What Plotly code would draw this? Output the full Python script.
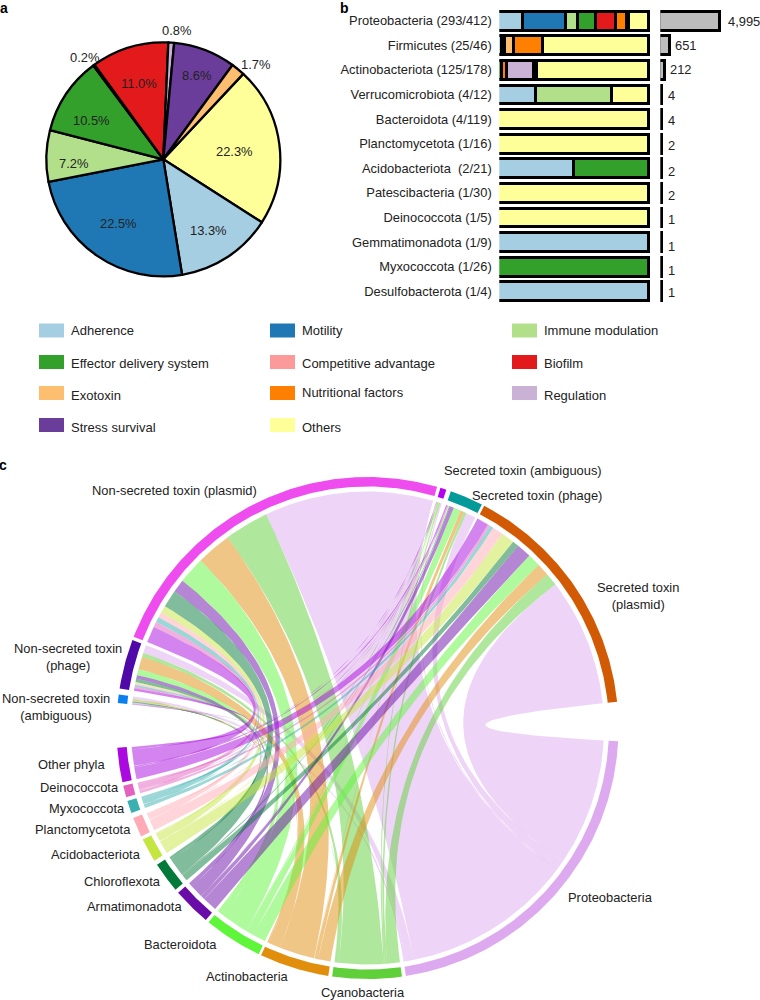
import math
import plotly.graph_objects as go

W, H = 760, 1000
FONT = "Liberation Sans"
TXT = "#222222"

# ---------- panel a / b categories ----------
categories = ["Adherence", "Motility", "Immune modulation", "Effector delivery system",
              "Competitive advantage", "Biofilm", "Exotoxin", "Nutritional factors",
              "Regulation", "Stress survival", "Others"]
cat_colors = ["#A6CEE3", "#1F78B4", "#B2DF8A", "#33A02C", "#FB9A99", "#E31A1C",
              "#FDBF6F", "#FF7F00", "#CAB2D6", "#6A3D9A", "#FFFF99"]

# ---------- panel a ----------
pie_cats = ["Others", "Adherence", "Motility", "Immune modulation", "Effector delivery system",
            "Competitive advantage", "Biofilm", "Regulation", "Stress survival", "Exotoxin"]
pie_values = [22.1, 13.4, 24.5, 7.1, 10.8, 0.2, 10.7, 0.8, 8.6, 1.9]
pie_text = ["22.3%", "13.3%", "22.5%", "7.2%", "10.5%", "0.2%", "11.0%", "0.8%", "8.6%", "1.7%"]
pie_text_px = [(234, 151), (208, 231), (118, 224), (73, 163), (91, 120), (84, 57),
               (139, 84), (176, 30), (196, 76), (255, 65)]

# ---------- panel b ----------
phyla_b = ["Proteobacteria (293/412)", "Firmicutes (25/46)", "Actinobacteriota (125/178)",
           "Verrucomicrobiota (4/12)", "Bacteroidota (4/119)", "Planctomycetota (1/16)",
           "Acidobacteriota  (2/21)", "Patescibacteria (1/30)", "Deinococcota (1/5)",
           "Gemmatimonadota (1/9)", "Myxococcota (1/26)", "Desulfobacterota (1/4)"]
stack = {
    "Adherence":                [16.2, 2, 0, 25, 0, 0, 50, 0, 0, 100, 0, 100],
    "Motility":                 [28.3, 0, 0, 0, 0, 0, 0, 0, 0, 0, 0, 0],
    "Immune modulation":        [8.2, 0, 0, 50, 0, 0, 0, 0, 0, 0, 0, 0],
    "Effector delivery system": [12.3, 2, 2, 0, 0, 0, 50, 0, 0, 0, 100, 0],
    "Competitive advantage":    [0, 0, 0, 0, 0, 0, 0, 0, 0, 0, 0, 0],
    "Biofilm":                  [13.0, 0, 0, 0, 0, 0, 0, 0, 0, 0, 0, 0],
    "Exotoxin":                 [0, 6.3, 0, 0, 0, 0, 0, 0, 0, 0, 0, 0],
    "Nutritional factors":      [7.1, 19.2, 3.8, 0, 0, 0, 0, 0, 0, 0, 0, 0],
    "Regulation":               [0, 0, 17.6, 0, 0, 0, 0, 0, 0, 0, 0, 0],
    "Stress survival":          [1.5, 0, 2, 0, 0, 0, 0, 0, 0, 0, 0, 0],
    "Others":                   [13.4, 70.5, 74.6, 25, 100, 100, 0, 100, 100, 0, 0, 0],
}
counts = [4995, 651, 212, 4, 4, 2, 2, 2, 1, 1, 1, 1]
count_text = ["4,995", "651", "212", "4", "4", "2", "2", "2", "1", "1", "1", "1"]
count_text_px = [(743.5, 21.3), (686, 45), (681, 69.7), (671.7, 95.3), (671.7, 120), (671.7, 145),
                 (671.7, 171.7), (671.7, 195), (671.7, 220), (671.7, 246), (671.7, 270), (671.7, 292.7)]

# ---------- legend layout ----------
legend_order = categories
legend_swatch_x = [39, 270, 512, 39, 270, 512, 39, 270, 512, 39, 270]
legend_swatch_y = [330.5, 330.5, 330.5, 362, 362, 362, 393, 393, 393, 425, 425]
legend_text_y = [331, 331, 331, 363, 363.6, 363.6, 395, 392, 395, 427, 427]

# ---------- panel c ----------
toxins = ["Secreted toxin (plasmid)", "Secreted toxin (phage)", "Secreted toxin (ambiguous)",
          "Non-secreted toxin (plasmid)", "Non-secreted toxin (phage)", "Non-secreted toxin (ambiguous)"]
toxin_colors = ["#D25A04", "#059A9A", "#B400F0", "#EE4CEE", "#4E09A8", "#0A80F0"]
phyla_c = ["Other phyla", "Deinococcota", "Myxococcota", "Planctomycetota", "Acidobacteriota",
           "Chloroflexota", "Armatimonadota", "Bacteroidota", "Actinobacteria", "Cyanobacteria",
           "Proteobacteria"]
phyla_colors = ["#AA0ADF", "#E362C0", "#3AB0B0", "#FFABB5", "#C5E640", "#047A3A", "#6A0DA8",
                "#5FF53A", "#E08E0B", "#5FCF3A", "#DDAAF0"]
# rows: phyla_c, columns: toxins
flows = [
    [2.9, 0.3, 0.10, 4.0, 0.60, 0.10],
    [0.6, 0.2, 0.05, 1.3, 0.45, 0.10],
    [0.9, 0.1, 0.05, 1.3, 0.45, 0.10],
    [2.7, 0.1, 0.05, 1.3, 0.35, 0.10],
    [3.2, 0.1, 0.05, 1.8, 0.30, 0.05],
    [1.6, 0.2, 0.05, 4.3, 0.80, 0.15],
    [3.6, 1.0, 0.05, 3.2, 0.90, 0.15],
    [3.2, 1.8, 0.25, 6.6, 1.50, 0.25],
    [3.1, 0.9, 0.10, 8.6, 3.10, 0.30],
    [3.1, 0.6, 0.30, 10.9, 1.00, 0.10],
    [31.4, 2.4, 0.35, 41.5, 2.00, 0.55],
]
start_angle = 6.0
gaps = [0.6, 1.1, 0.8, 0.8, 1.4, 10.2, 0.8, 0.9, 1.2, 0.8, 1.1, 0.9, 0.8, 0.6, 0.9, 0.9]

label_c = [("Non-secreted toxin (plasmid)", 174.3, 490.7), ("Non-secreted toxin<br>(phage)", 67.7, 656.5),
           ("Non-secreted toxin<br>(ambiguous)", 56, 707), ("Secreted toxin (ambiguous)", 523.3, 470.7),
           ("Secreted toxin (phage)", 536.7, 495.7), ("Secreted toxin<br>(plasmid)", 638.3, 596),
           ("Other phyla", 71.7, 764.3), ("Deinococcota", 79.3, 787.7), ("Myxococcota", 87.3, 808.7),
           ("Planctomycetota", 83, 829.3), ("Acidobacteriota", 96.3, 854.3), ("Chloroflexota", 122.7, 881.7),
           ("Armatimonadota", 134.3, 906.7), ("Bacteroidota", 180, 944.7), ("Actinobacteria", 247.7, 976),
           ("Cyanobacteria", 363, 992), ("Proteobacteria", 610, 897.3)]

# ---------- helpers ----------
def fx(px): return px / W
def fy(py): return 1 - py / H
def ann(text, x, y, size=12.9, anchor="center", bold=False, color=TXT):
    return dict(text=f"<b>{text}</b>" if bold else text, x=fx(x), y=fy(y), xref="paper", yref="paper",
                xanchor=anchor, yanchor="middle", showarrow=False,
                font=dict(family=FONT, size=size, color=color))
def rgba(hexc, a):
    return f"rgba({int(hexc[1:3],16)},{int(hexc[3:5],16)},{int(hexc[5:7],16)},{a})"

fig = go.Figure()
annotations, shapes = [], []

# panel a
fig.add_trace(go.Pie(values=pie_values, labels=pie_cats, sort=False, direction="clockwise",
                     rotation=43.1, textinfo="none", hoverinfo="skip", showlegend=False,
                     marker=dict(colors=[cat_colors[categories.index(c)] for c in pie_cats],
                                 line=dict(color="black", width=2.3)),
                     domain=dict(x=[fx(46.3), fx(280.3)], y=[fy(276.3), fy(42.3)])))
for t, (x, y) in zip(pie_text, pie_text_px):
    annotations.append(ann(t, x, y))

# panel b stacked
for c, col in zip(categories, cat_colors):
    vals = stack[c]
    fig.add_trace(go.Bar(y=phyla_b, x=[v if v else None for v in vals], orientation="h",
                         marker=dict(color=col, line=dict(color="black", width=3)),
                         width=0.77, xaxis="x", yaxis="y", showlegend=False, hoverinfo="skip"))
# panel b counts
X2_RANGE = [-128.7, 5338]
X2_PX = 724 - 660.3
PX_PER_UNIT = X2_PX / (X2_RANGE[1] - X2_RANGE[0])
fig.add_trace(go.Bar(y=phyla_b, x=counts, orientation="h",
                     marker=dict(color="#BDBDBD", line=dict(color="black", width=3)),
                     width=0.77, xaxis="x2", yaxis="y2", showlegend=False, hoverinfo="skip"))
# grey fill runs up to the clip edge on the large bars, as in the reference (no left stroke)
fig.add_trace(go.Bar(y=phyla_b, x=[(c - X2_RANGE[0] - 1.5 / PX_PER_UNIT) if c > 100 else None for c in counts],
                     base=X2_RANGE[0], orientation="h",
                     marker=dict(color="#BDBDBD", line=dict(width=0)),
                     width=0.65, xaxis="x4", yaxis="y4", showlegend=False, hoverinfo="skip"))
for t, (x, y) in zip(count_text, count_text_px):
    annotations.append(ann(t, x, y))

# legend
for c, col, sx, sy, ty in zip(legend_order, cat_colors, legend_swatch_x, legend_swatch_y, legend_text_y):
    shapes.append(dict(type="rect", xref="paper", yref="paper", x0=fx(sx), x1=fx(sx + 25),
                       y0=fy(sy - 7), y1=fy(sy + 7), fillcolor=col, line=dict(width=0)))
    annotations.append(ann(c, sx + 29.5, ty, size=13, anchor="left"))

# panel c geometry
CX, CY = 367.5, 728.0
R_OUT, R_IN, R_LINK = 251.0, 241.5, 236.5
def pt(phi, r):
    a = math.radians(phi)
    return CX + r * math.cos(a), CY - r * math.sin(a)
def arc(a0, a1, r, step=0.5):
    n = max(2, int(abs(a1 - a0) / step) + 2)
    return [pt(a0 + (a1 - a0) * i / (n - 1), r) for i in range(n)]
def bez(p0, p1, n=50):
    out = []
    for i in range(n + 1):
        t = i / n
        out.append(((1 - t) ** 2 * p0[0] + 2 * t * (1 - t) * CX + t ** 2 * p1[0],
                    (1 - t) ** 2 * p0[1] + 2 * t * (1 - t) * CY + t ** 2 * p1[1]))
    return out

col_sum = [sum(r[j] for r in flows) for j in range(len(toxins))]
row_sum = [sum(r) for r in flows]
spans = col_sum + row_sum
colors = toxin_colors + phyla_colors
bounds, a = [], start_angle
for i, s in enumerate(spans):
    bounds.append((a, a + s))
    a += s + (gaps[i] if i < len(gaps) else 0)

tox_bounds = bounds[:len(toxins)]
phy_bounds = bounds[len(toxins):]
tox_cursor = [b[1] for b in tox_bounds]
phy_cursor = [b[1] for b in phy_bounds]
seg_t, seg_p = {}, {}
for j in range(len(toxins)):
    for i in range(len(phyla_c)):
        v = flows[i][j]
        seg_t[(i, j)] = (tox_cursor[j] - v, tox_cursor[j])
        tox_cursor[j] -= v
for i in range(len(phyla_c)):
    for j in range(len(toxins)):
        v = flows[i][j]
        seg_p[(i, j)] = (phy_cursor[i] - v, phy_cursor[i])
        phy_cursor[i] -= v

xaxis3 = dict(domain=[0, 1], range=[0, W], visible=False, fixedrange=True, anchor="y3")
yaxis3 = dict(domain=[0, 1], range=[H, 0], visible=False, fixedrange=True, anchor="x3")

for i in range(len(phyla_c) - 1, -1, -1):
    for j in range(len(toxins)):
        t0, t1 = seg_t[(i, j)]
        p0, p1 = seg_p[(i, j)]
        pts = arc(t0, t1, R_LINK)
        pts += bez(pts[-1], pt(p0, R_LINK))
        pts += arc(p0, p1, R_LINK)
        pts += bez(pts[-1], pt(t0, R_LINK))
        fig.add_trace(go.Scatter(x=[q[0] for q in pts], y=[q[1] for q in pts], mode="lines",
                                 fill="toself", line=dict(width=0), fillcolor=rgba(phyla_colors[i], 0.5),
                                 xaxis="x3", yaxis="y3", showlegend=False, hoverinfo="skip"))
for (b0, b1), col in zip(bounds, colors):
    pts = arc(b0, b1, R_OUT) + arc(b1, b0, R_IN)
    fig.add_trace(go.Scatter(x=[q[0] for q in pts], y=[q[1] for q in pts], mode="lines",
                             fill="toself", line=dict(width=0), fillcolor=col,
                             xaxis="x3", yaxis="y3", showlegend=False, hoverinfo="skip"))
for t, x, y in label_c:
    annotations.append(ann(t, x, y))

# panel letters
annotations.append(ann("a", 4, 8, size=14, bold=True, color="black"))
annotations.append(ann("b", 344, 8, size=14, bold=True, color="black"))
annotations.append(ann("c", 3.5, 465, size=14, bold=True, color="black"))

y_common = dict(domain=[fy(303.6), fy(8.4)], type="category", categoryorder="array", categoryarray=phyla_b,
                range=[11.5, -0.5], showline=False, showgrid=False, zeroline=False, fixedrange=True)
fig.update_layout(
    width=W, height=H, margin=dict(l=0, r=0, t=0, b=0), autosize=False,
    paper_bgcolor="white", plot_bgcolor="rgba(0,0,0,0)", barmode="stack", bargap=0.2,
    font=dict(family=FONT, size=12.9, color=TXT),
    annotations=annotations, shapes=shapes,
    xaxis=dict(domain=[fx(499.3), fx(651)], range=[0.86, 101.5], visible=False, fixedrange=True, anchor="y"),
    yaxis=dict(**y_common, anchor="x", ticks="outside", ticklen=4, tickcolor="rgba(0,0,0,0)",
               tickfont=dict(family=FONT, size=12.9, color=TXT)),
    xaxis2=dict(domain=[fx(660.3), fx(724)], range=X2_RANGE, visible=False, fixedrange=True, anchor="y2"),
    yaxis2=dict(**y_common, anchor="x2", showticklabels=False, ticks=""),
    xaxis3=xaxis3, yaxis3=yaxis3,
    xaxis4=dict(domain=[fx(660.3), fx(724)], range=X2_RANGE, visible=False, fixedrange=True, anchor="y4"),
    yaxis4=dict(**y_common, anchor="x4", showticklabels=False, ticks=""),
)
fig.write_html("out.html", config=dict(displayModeBar=False),
               post_script="document.body.style.margin='0';document.body.style.overflow='hidden';")
